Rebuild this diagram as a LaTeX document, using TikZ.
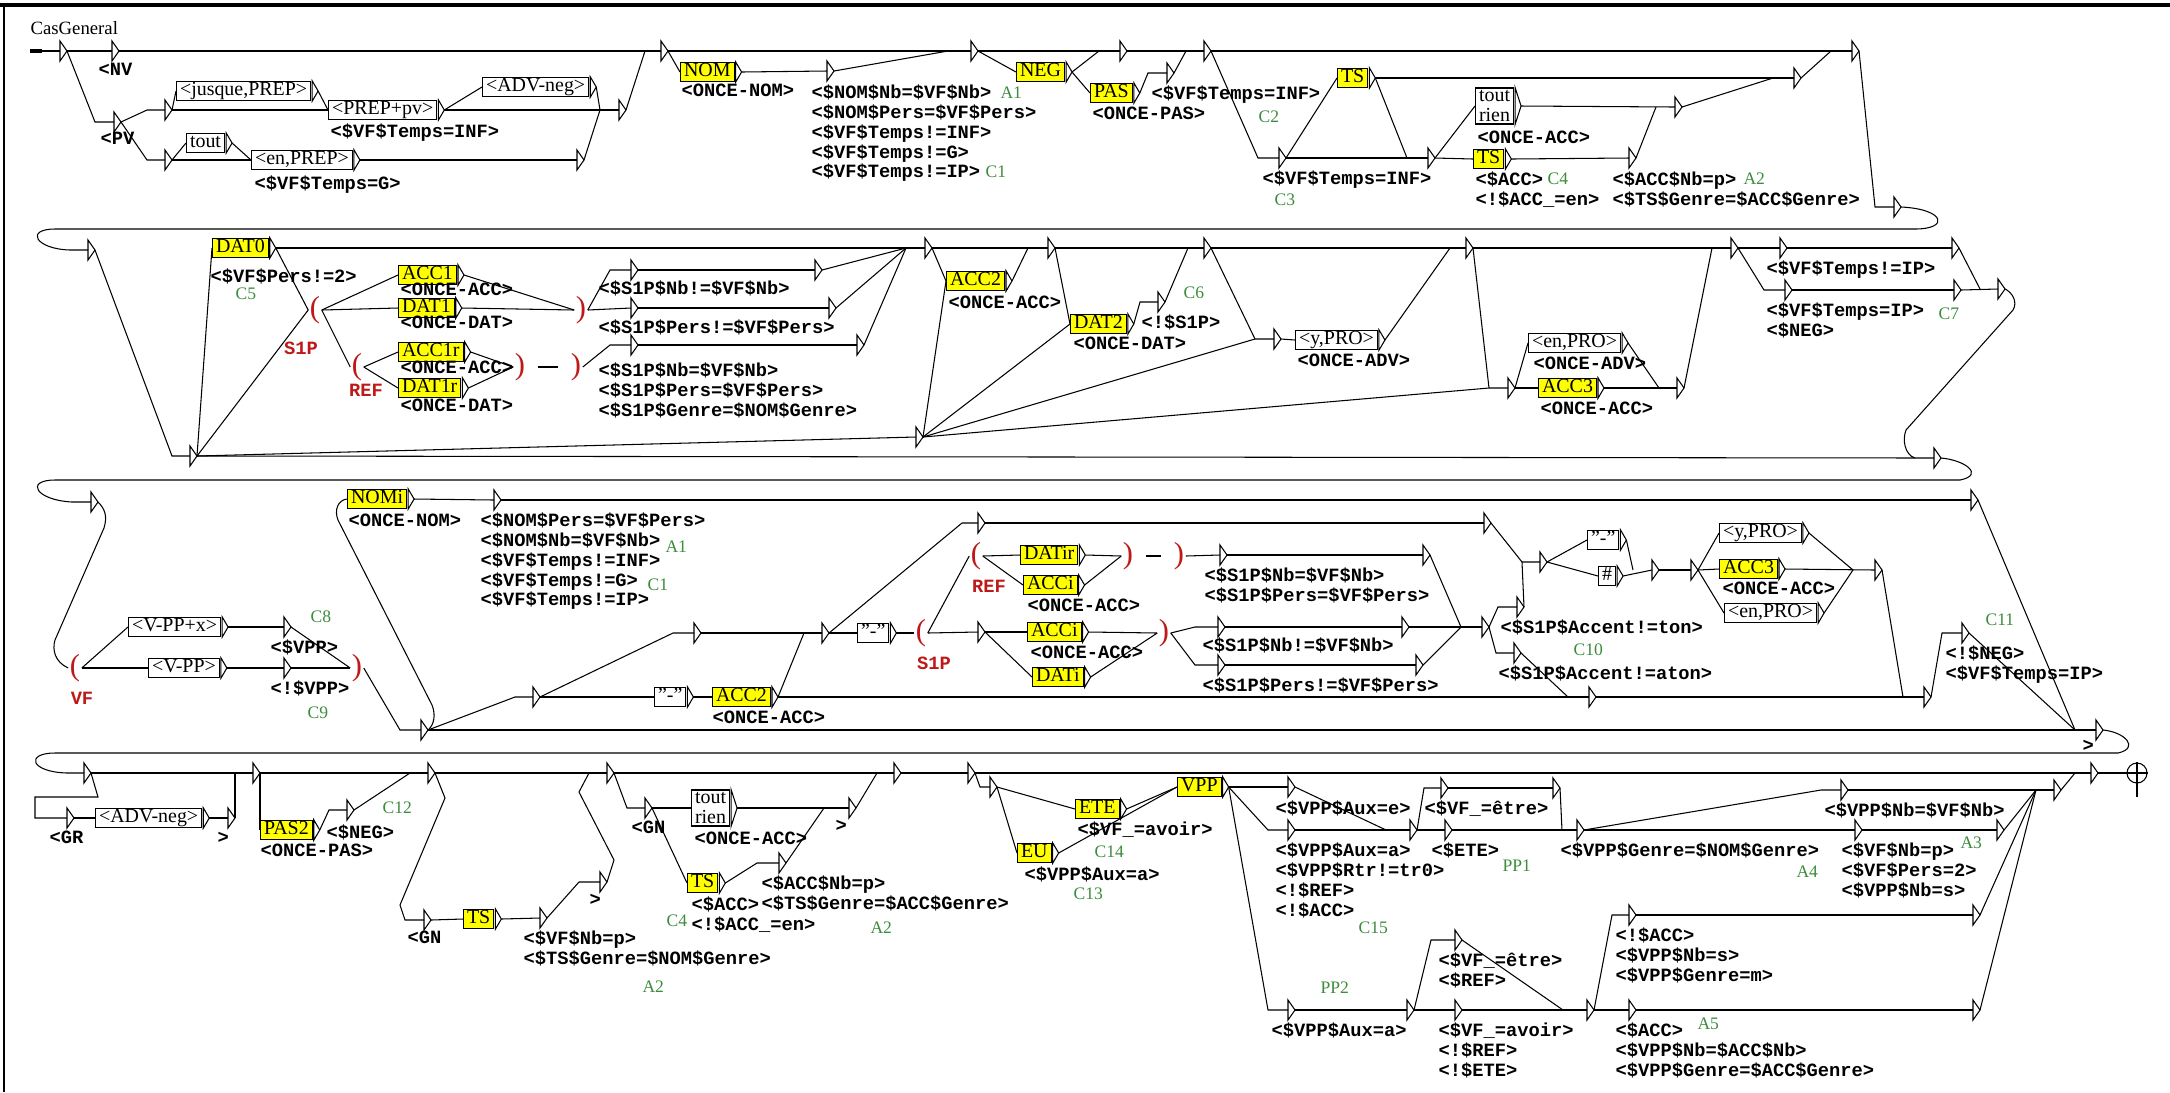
\documentclass[tikz,border=0pt]{standalone}
\usepackage{fontspec}
\setmainfont{Liberation Serif}
\newfontfamily\monofam{Liberation Mono}
\usetikzlibrary{calc,positioning}
\definecolor{boxyellow}{RGB}{255,255,0}
\definecolor{cmtgreen}{RGB}{60,140,60}
\definecolor{varred}{RGB}{190,25,25}
\newcommand{\boxfont}{\fontsize{8.5}{8.5}\selectfont}
\newcommand{\outfont}{\monofam\bfseries\fontsize{8}{8.5}\selectfont}
\tikzset{%
    ybox/.style={%
        draw, fill=boxyellow, anchor=west, font=\boxfont, inner xsep=1.5pt, inner ysep=0.5pt, text height=5.7pt, text depth=1.6pt
    },
    wbox/.style={%
        ybox, fill=white
    },
    wbox2/.style={%
        draw, fill=white, anchor=west, font=\boxfont, align=left, inner xsep=1.5pt, inner ysep=1pt
    },
    outp/.style={%
        anchor=north west, align=left, inner sep=0pt, font=\outfont
    },
    cmt/.style={%
        anchor=west, inner sep=0pt, text=cmtgreen, font=\fontsize{7.5}{7.5}\selectfont
    },
    paren/.style={%
        inner sep=0.5pt, text=varred, font=\fontsize{13}{13}\selectfont
    },
    varlab/.style={%
        inner sep=0pt, text=varred, font=\outfont
    },
    dashlink/.style={%
        shorten <=5pt, shorten >=5pt
    },
}
% empty box: a small triangle, (name) is its input, (name-o) its output
\newcommand{\mrk}[3]{%
  \coordinate (#1) at (#2,#3);
  \coordinate (#1-o) at (#2+7,#3);
  \draw (#2,#3-10) -- (#2+7,#3) -- (#2,#3+10) -- cycle;}
\newcommand{\bxx}[5][ybox]{%
  \node[#1] (#2) at (#3,#4) {#5};
  \draw ($(#2.north east)+(1,0)$) -- ($(#2.east)+(7,0)$) -- ($(#2.south east)+(1,0)$) -- cycle;
  \coordinate (#2-o) at ($(#2.east)+(7,0)$);}
\newcommand{\otxt}[4]{\node[outp] (#1) at (#2,#3-8) {#4};}
\newcommand{\cmnt}[4]{\node[cmt] (#1) at (#2,#3) {#4};}

\begin{document}
\begin{tikzpicture}[x=0.015cm, y=-0.015cm, line width=0.45pt]
\useasboundingbox (0,0) rectangle (2170,1092);
\draw[line width=1.3pt] (0,5) -- (2170,5);
\draw[line width=0.9pt] (4,5) -- (4,1092);
\node[anchor=west, inner sep=0pt, font=\fontsize{8}{8}\selectfont] (title) at (30,28) {CasGeneral};

% first row
\coordinate (ini) at (30,51);
\draw[line width=1.3pt] (ini) -- (42,51);
\mrk{e0}{60}{51}
\mrk{nv}{112}{51}
\mrk{pv}{114}{122}
\otxt{nv-t}{98}{71}{<NV}
\otxt{pv-t}{100}{140}{<PV}
\draw (42,51) -- (e0);
\draw (e0-o) -- (nv);
\draw (e0-o) -- (95,122) -- (pv);
\mrk{pa}{165}{110}
\mrk{pb}{165}{160}
\draw (pv-o) -- (147,110) -- (pa);
\draw (pv-o) -- (147,160) -- (pb);
\bxx[wbox]{jusque}{176}{91}{<jusque,PREP>}
\bxx[wbox]{prep}{328}{110}{<PREP+pv>}
\bxx[wbox]{advneg}{482}{87}{<ADV-neg>}
\bxx[wbox]{tout}{186}{143}{tout}
\bxx[wbox]{enprep}{251}{160}{<en,PREP>}
\otxt{prep-t}{330}{131}{<\$VF\$Temps=INF>}
\otxt{enprep-t}{254}{183}{<\$VF\$Temps=G>}
\mrk{pc}{619}{110}
\mrk{pd}{577}{160}
\draw (pa-o) -- (jusque.west);
\draw (pa-o) -- (prep.west);
\draw (jusque-o) -- (prep.west);
\draw (prep-o) -- (advneg.west);
\draw (prep-o) -- (pc);
\draw (advneg-o) -- (600,110);
\draw (pb-o) -- (tout.west);
\draw (pb-o) -- (enprep.west);
\draw (tout-o) -- (enprep.west);
\draw (enprep-o) -- (pd);
\draw (pd-o) -- (600,110);
\mrk{pf}{661}{51}
\draw (nv-o) -- (pf);
\draw (pc-o) -- (645,51);
\bxx{nom}{680}{72}{NOM}
\otxt{nom-t}{681}{91}{<ONCE-NOM>}
\draw (pf-o) -- (nom.west);
\mrk{g1}{827}{71}
\otxt{g1-t}{811}{92}{<\$NOM\$Nb=\$VF\$Nb>\\<\$NOM\$Pers=\$VF\$Pers>\\<\$VF\$Temps!=INF>\\<\$VF\$Temps!=G>\\<\$VF\$Temps!=IP>}
\cmnt{a1}{1000}{93}{A1}
\cmnt{c1}{985}{172}{C1}
\draw (nom-o) -- (g1);
\mrk{h1}{971}{51}
\draw (pf-o) -- (h1);
\draw (g1-o) -- (948,51);
\bxx{neg}{1016}{72}{NEG}
\draw (h1-o) -- (neg.west);
\mrk{i1}{1120}{51}
\draw (h1-o) -- (i1);
\draw (neg-o) -- (1099,51);
\bxx{pas}{1090}{93}{PAS}
\otxt{pas-t}{1092}{114}{<ONCE-PAS>}
\draw (neg-o) -- (pas.west);
\mrk{j1}{1167}{73}
\otxt{j1-t}{1151}{93}{<\$VF\$Temps=INF>}
\draw (pas-o) -- (1148,73) -- (j1);
\mrk{k1}{1204}{51}
\draw (i1-o) -- (k1);
\draw (j1-o) -- (1186,51);
\cmnt{c2}{1258}{117}{C2}
\mrk{l1}{1279}{158}
\otxt{l1-t}{1262}{178}{<\$VF\$Temps=INF>}
\cmnt{c3}{1274}{200}{C3}
\draw (k1-o) -- (1258,158) -- (l1);
\bxx{ts1}{1337}{78}{TS}
\draw (l1-o) -- (ts1.west);
\mrk{y1}{1794}{78}
\draw (ts1-o) -- (y1);
\mrk{m1}{1428}{158}
\draw (l1-o) -- (m1);
\draw (ts1-o) -- (1407,158);
\bxx[wbox2]{toutrien}{1475}{106}{tout\\rien}
\otxt{toutrien-t}{1477}{138}{<ONCE-ACC>}
\draw (m1-o) -- (toutrien.west);
\bxx{ts2}{1473}{159}{TS}
\otxt{ts2-t}{1475}{179}{<\$ACC>\\<!\$ACC\_=en>}
\cmnt{c4}{1547}{179}{C4}
\draw (m1-o) -- (ts2.west);
\mrk{n1}{1675}{107}
\draw (toutrien-o) -- (n1);
\mrk{o1}{1629}{158}
\otxt{o1-t}{1612}{179}{<\$ACC\$Nb=p>\\<\$TS\$Genre=\$ACC\$Genre>}
\cmnt{a2}{1743}{179}{A2}
\draw (ts2-o) -- (o1);
\draw (o1-o) -- (1656,107);
\draw (n1-o) -- (1773,78);
\mrk{z1}{1852}{51}
\draw (k1-o) -- (z1);
\draw (y1-o) -- (1831,51);
\mrk{w1}{1894}{207}
\draw (z1-o) -- (1875,207) -- (w1);
\mrk{p0}{88}{250}
\draw (w1-o) .. controls (1945,209) and (1950,229) .. (1915,229) -- (55,229) .. controls (25,229) and (35,249) .. (70,250) -- (p0);

% second row
\mrk{q2}{190}{456}
\draw (p0-o) -- (172,456) -- (q2);
\bxx{dat0}{212}{248}{DAT0}
\otxt{dat0-t}{210}{276}{<\$VF\$Pers!=2>}
\cmnt{c5}{235}{294}{C5}
\draw (q2-o) -- (dat0.west);
\node[paren] (s1po) at (315,310) {(};
\node[varlab] (s1po-t) at (301,348) {S1P};
\draw (q2-o) -- (s1po.west);
\draw (dat0-o) -- (s1po.west);
\bxx{acc1}{398}{275}{ACC1}
\otxt{acc1-t}{400}{290}{<ONCE-ACC>}
\bxx{dat1}{398}{308}{DAT1}
\otxt{dat1-t}{400}{323}{<ONCE-DAT>}
\node[paren] (refo) at (357,367) {(};
\node[varlab] (refo-t) at (366,390) {REF};
\draw (s1po.east) -- (acc1.west);
\draw (s1po.east) -- (dat1.west);
\draw (s1po.east) -- (refo.west);
\bxx{acc1r}{398}{352}{ACC1r}
\otxt{acc1r-t}{400}{368}{<ONCE-ACC>}
\bxx{dat1r}{398}{388}{DAT1r}
\otxt{dat1r-t}{400}{406}{<ONCE-DAT>}
\draw (refo.east) -- (acc1r.west);
\draw (refo.east) -- (dat1r.west);
\node[paren] (refc) at (520,367) {)};
\draw (acc1r-o) -- (refc.west);
\draw (dat1r-o) -- (refc.west);
\node[paren] (s1pc2) at (576,367) {)};
\draw[dashlink] (refc.east) -- (s1pc2.west);
\node[paren] (s1pc1) at (581,310) {)};
\draw (acc1-o) -- (s1pc1.west);
\draw (dat1-o) -- (s1pc1.west);
\mrk{s1a}{631}{270}
\mrk{s1b}{631}{308}
\mrk{s1c}{631}{345}
\draw (s1pc1.east) -- (610,270) -- (s1a);
\draw (s1pc1.east) -- (s1b);
\draw (s1pc2.east) -- (610,345) -- (s1c);
\otxt{s1a-t}{598}{288}{<\$S1P\$Nb!=\$VF\$Nb>}
\otxt{s1b-t}{598}{327}{<\$S1P\$Pers!=\$VF\$Pers>}
\otxt{s1c-t}{598}{370}{<\$S1P\$Nb=\$VF\$Nb>\\<\$S1P\$Pers=\$VF\$Pers>\\<\$S1P\$Genre=\$NOM\$Genre>}
\mrk{s1a2}{815}{270}
\mrk{s1b2}{829}{308}
\mrk{s1c2}{857}{345}
\draw (s1a-o) -- (s1a2);
\draw (s1b-o) -- (s1b2);
\draw (s1c-o) -- (s1c2);
\mrk{m2}{925}{248}
\draw (s1a2-o) -- (906,248);
\draw (s1b2-o) -- (906,248);
\draw (s1c2-o) -- (906,248);
\draw (dat0-o) -- (m2);
\bxx{acc2}{946}{281}{ACC2}
\otxt{acc2-t}{948}{303}{<ONCE-ACC>}
\draw (m2-o) -- (acc2.west);
\mrk{m3}{1048}{248}
\draw (m2-o) -- (m3);
\draw (acc2-o) -- (1028,248);
\bxx{dat2}{1070}{324}{DAT2}
\otxt{dat2-t}{1073}{344}{<ONCE-DAT>}
\draw (m3-o) -- (dat2.west);
\mrk{c6m}{1158}{302}
\otxt{c6m-t}{1141}{322}{<!\$S1P>}
\cmnt{c6}{1183}{293}{C6}
\draw (dat2-o) -- (1140,302) -- (c6m);
\mrk{m4}{1204}{248}
\draw (m3-o) -- (m4);
\draw (c6m-o) -- (1188,248);
\mrk{r2}{916}{437}
\draw (q2-o) -- (r2);
\draw (r2-o) -- (acc2.west);
\draw (r2-o) -- (dat2.west);
\mrk{m5}{1274}{339}
\draw (r2-o) -- (1255,339) -- (m5);
\draw (m4-o) -- (1255,339);
\bxx[wbox]{ypro}{1295}{340}{<y,PRO>}
\otxt{ypro-t}{1297}{361}{<ONCE-ADV>}
\draw (m5-o) -- (ypro.west);
\mrk{m6}{1466}{248}
\draw (m4-o) -- (m6);
\draw (ypro-o) -- (1450,248);
\mrk{m7}{1508}{388}
\draw (r2-o) -- (1489,388) -- (m7);
\draw (m6-o) -- (1489,388);
\bxx[wbox]{enpro}{1528}{343}{<en,PRO>}
\otxt{enpro-t}{1533}{364}{<ONCE-ADV>}
\bxx{acc3}{1538}{388}{ACC3}
\otxt{acc3-t}{1540}{409}{<ONCE-ACC>}
\draw (m7-o) -- (enpro.west);
\draw (m7-o) -- (acc3.west);
\mrk{m9}{1677}{388}
\draw (enpro-o) -- (1659,388);
\draw (acc3-o) -- (m9);
\mrk{m8}{1731}{248}
\draw (m6-o) -- (m8);
\draw (m9-o) -- (1712,248);
\mrk{m10}{1780}{248}
\otxt{m10-t}{1766}{268}{<\$VF\$Temps!=IP>}
\mrk{m11}{1952}{248}
\draw (m8-o) -- (m10);
\draw (m10-o) -- (m11);
\mrk{m12}{1785}{290}
\otxt{m12-t}{1766}{310}{<\$VF\$Temps=IP>\\<\$NEG>}
\cmnt{c7}{1938}{314}{C7}
\mrk{m13}{1954}{290}
\draw (m8-o) -- (1764,290) -- (m12);
\draw (m12-o) -- (m13);
\mrk{m14}{1998}{289}
\draw (m11-o) -- (1980,289);
\draw (m13-o) -- (m14);
\mrk{w2}{1934}{458}
\draw (q2-o) -- (w2);
\draw (m14-o) .. controls (2012,292) and (2018,302) .. (2013,310) -- (1906,430) .. controls (1902,440) and (1905,455) .. (1915,458);
\mrk{p3}{91}{502}
\draw (w2-o) .. controls (1965,460) and (1985,475) .. (1960,480) -- (55,480) .. controls (25,480) and (35,500) .. (72,502) -- (p3);

% third row
\node[paren] (vfo) at (75,668) {(};
\node[varlab] (vfo-t) at (82,698) {VF};
\draw (p3-o) .. controls (104,508) and (108,515) .. (104,528) -- (55,640) .. controls (52,650) and (55,662) .. (vfo.west);
\bxx[wbox]{vppx}{128}{627}{<V-PP+x>}
\bxx[wbox]{vpp}{148}{668}{<V-PP>}
\draw (vfo.east) -- (vppx.west);
\draw (vfo.east) -- (vpp.west);
\mrk{c8m}{284}{627}
\otxt{c8m-t}{270}{647}{<\$VPP>}
\cmnt{c8}{310}{617}{C8}
\mrk{c9m}{284}{668}
\otxt{c9m-t}{270}{688}{<!\$VPP>}
\cmnt{c9}{307}{713}{C9}
\draw (vppx-o) -- (c8m);
\draw (vpp-o) -- (c9m);
\node[paren] (vfc) at (357,668) {)};
\draw (c8m-o) -- (vfc.west);
\draw (c9m-o) -- (vfc.west);
\mrk{q3}{421}{730}
\draw (vfc.east) -- (400,730) -- (q3);
\bxx{nomi}{347}{499}{NOMi}
\otxt{nomi-t}{348}{521}{<ONCE-NOM>}
\draw (q3-o) .. controls (434,725) and (436,715) .. (432,705) -- (338,520) .. controls (334,510) and (338,500) .. (nomi.west);
\mrk{a1m}{494}{500}
\otxt{a1m-t}{480}{520}{<\$NOM\$Pers=\$VF\$Pers>\\<\$NOM\$Nb=\$VF\$Nb>\\<\$VF\$Temps!=INF>\\<\$VF\$Temps!=G>\\<\$VF\$Temps!=IP>}
\cmnt{a1b}{665}{547}{A1}
\cmnt{c1b}{647}{585}{C1}
\draw (nomi-o) -- (a1m);
\mrk{mt}{1971}{500}
\draw (a1m-o) -- (mt);
\mrk{mq}{533}{697}
\draw (q3-o) -- (515,697) -- (mq);
\mrk{mq2}{694}{633}
\draw (mq-o) -- (673,633) -- (mq2);
\bxx[wbox]{dasha}{654}{697}{"-"}
\bxx{acc2b}{712}{697}{ACC2}
\otxt{acc2b-t}{712}{718}{<ONCE-ACC>}
\draw (mq-o) -- (dasha.west);
\draw (dasha-o) -- (acc2b.west);
\mrk{mq3}{822}{633}
\draw (mq2-o) -- (mq3);
\draw (acc2b-o) -- (804,633);
\mrk{m15}{978}{523}
\draw (mq3-o) -- (962,523) -- (m15);
\bxx[wbox]{dashb}{857}{633}{"-"}
\draw (mq3-o) -- (dashb.west);
\node[paren] (s1po2) at (921,633) {(};
\node[varlab] (s1po2-t) at (934,663) {S1P};
\draw (dashb-o) -- (s1po2.west);
\mrk{m16}{1484}{523}
\draw (m15-o) -- (m16);
\node[paren] (refo2) at (976,556) {(};
\node[varlab] (refo2-t) at (989,586) {REF};
\draw (s1po2.east) -- (refo2.west);
\mrk{m17}{978}{632}
\draw (s1po2.east) -- (m17);
\bxx{datir}{1020}{555}{DATir}
\bxx{acci1}{1023}{585}{ACCi}
\otxt{acci1-t}{1027}{606}{<ONCE-ACC>}
\draw (refo2.east) -- (datir.west);
\draw (refo2.east) -- (acci1.west);
\node[paren] (refc2) at (1128,556) {)};
\draw (datir-o) -- (refc2.west);
\draw (acci1-o) -- (refc2.west);
\node[paren] (s1pc3) at (1179,556) {)};
\draw[dashlink] (refc2.east) -- (s1pc3.west);
\mrk{ms1}{1220}{555}
\otxt{ms1-t}{1204}{575}{<\$S1P\$Nb=\$VF\$Nb>\\<\$S1P\$Pers=\$VF\$Pers>}
\draw (s1pc3.east) -- (ms1);
\mrk{ms1b}{1423}{555}
\draw (ms1-o) -- (ms1b);
\bxx{acci2}{1027}{632}{ACCi}
\otxt{acci2-t}{1030}{653}{<ONCE-ACC>}
\bxx{dati}{1032}{677}{DATi}
\draw (m17-o) -- (acci2.west);
\draw (m17-o) -- (dati.west);
\node[paren] (s1pc4) at (1164,633) {)};
\draw (acci2-o) -- (s1pc4.west);
\draw (dati-o) -- (s1pc4.west);
\mrk{ms2}{1218}{627}
\otxt{ms2-t}{1202}{645}{<\$S1P\$Nb!=\$VF\$Nb>}
\mrk{ms3}{1218}{665}
\otxt{ms3-t}{1202}{685}{<\$S1P\$Pers!=\$VF\$Pers>}
\draw (s1pc4.east) -- (1195,627) -- (ms2);
\draw (s1pc4.east) -- (1195,665) -- (ms3);
\mrk{ms2b}{1402}{627}
\mrk{ms3b}{1416}{665}
\draw (ms2-o) -- (ms2b);
\draw (ms3-o) -- (ms3b);
\mrk{mj}{1482}{627}
\draw (ms1b-o) -- (1461,627);
\draw (ms2b-o) -- (mj);
\draw (ms3b-o) -- (1461,627);
\mrk{mton}{1517}{607}
\otxt{mton-t}{1500}{627}{<\$S1P\$Accent!=ton>}
\mrk{maton}{1514}{653}
\otxt{maton-t}{1498}{673}{<\$S1P\$Accent!=aton>}
\cmnt{c10}{1573}{650}{C10}
\draw (mj-o) -- (1498,607) -- (mton);
\draw (mj-o) -- (1496,653) -- (maton);
\mrk{m18}{1540}{562}
\draw (mton-o) -- (1522,562) -- (m18);
\draw (m16-o) -- (1522,562);
\bxx[wbox]{dashc}{1587}{540}{"-"}
\bxx[wbox]{hash}{1598}{576}{\#}
\draw (m18-o) -- (dashc.west);
\draw (m18-o) -- (hash.west);
\mrk{m19}{1652}{570}
\draw (dashc-o) -- (1633,570);
\draw (hash-o) -- (m19);
\mrk{m20}{1691}{570}
\draw (m19-o) -- (m20);
\bxx[wbox]{ypro2}{1719}{533}{<y,PRO>}
\bxx{acc3b}{1719}{569}{ACC3}
\otxt{acc3b-t}{1722}{589}{<ONCE-ACC>}
\bxx[wbox]{enpro2}{1724}{613}{<en,PRO>}
\draw (m20-o) -- (ypro2.west);
\draw (m20-o) -- (acc3b.west);
\draw (m20-o) -- (enpro2.west);
\mrk{m21}{1875}{570}
\draw (ypro2-o) -- (1853,570);
\draw (acc3b-o) -- (m21);
\draw (enpro2-o) -- (1853,570);
\mrk{mat}{1589}{697}
\draw (maton-o) -- (1568,697);
\draw (acc2b-o) -- (mat);
\mrk{mc11}{1924}{697}
\draw (mat-o) -- (mc11);
\draw (m21-o) -- (1903,697);
\mrk{mc11b}{1962}{633}
\otxt{mc11b-t}{1945}{653}{<!\$NEG>\\<\$VF\$Temps=IP>}
\cmnt{c11}{1985}{620}{C11}
\draw (mc11-o) -- (1942,633) -- (mc11b);
\mrk{me3}{2096}{730}
\otxt{me3-t}{2082}{748}{>}
\draw (mc11b-o) -- (2075,730);
\draw (mt-o) -- (2075,730);
\draw (q3-o) -- (me3);
\mrk{m40}{84}{773}
\draw (me3-o) .. controls (2125,732) and (2140,748) .. (2118,753) -- (55,753) .. controls (25,753) and (30,772) .. (67,773) -- (m40);

% fourth row
\mrk{m41}{253}{773}
\mrk{m42}{428}{773}
\mrk{m43}{607}{773}
\mrk{m44}{894}{773}
\mrk{m45}{968}{773}
\mrk{mfin}{2091}{773}
\draw (m40-o) -- (m41);
\draw (m41-o) -- (m42);
\draw (m42-o) -- (m43);
\draw (m43-o) -- (m44);
\draw (m44-o) -- (m45);
\draw (m45-o) -- (mfin);
\mrk{mgr}{67}{818}
\otxt{mgr-t}{49}{838}{<GR}
\draw (m40-o) -- (98,797) -- (35,797) -- (35,818) -- (mgr);
\bxx[wbox]{advneg2}{95}{818}{<ADV-neg>}
\draw (mgr-o) -- (advneg2.west);
\mrk{mgr2}{228}{818}
\otxt{mgr2-t}{217}{840}{>}
\draw (advneg2-o) -- (mgr2);
\draw (mgr2-o) -- (235,773);
\bxx{pas2}{260}{830}{PAS2}
\otxt{pas2-t}{260}{851}{<ONCE-PAS>}
\draw (m41-o) -- (pas2.west);
\mrk{mneg}{347}{810}
\otxt{mneg-t}{326}{832}{<\$NEG>}
\cmnt{c12}{382}{808}{C12}
\draw (pas2-o) -- (329,810) -- (mneg);
\draw (mneg-o) -- (410,773);
\mrk{mgn1}{424}{920}
\otxt{mgn1-t}{407}{938}{<GN}
\draw (m42-o) -- (445,798) -- (400,905) -- (405,920) -- (mgn1);
\bxx{ts3}{463}{919}{TS}
\draw (mgn1-o) -- (ts3.west);
\mrk{mts3}{540}{918}
\otxt{mts3-t}{523}{938}{<\$VF\$Nb=p>\\<\$TS\$Genre=\$NOM\$Genre>}
\cmnt{a2b}{642}{987}{A2}
\draw (ts3-o) -- (mts3);
\mrk{mgt1}{600}{882}
\otxt{mgt1-t}{589}{902}{>}
\draw (mts3-o) -- (579,882) -- (mgt1);
\draw (mgt1-o) -- (614,860) -- (579,792) -- (589,773);
\mrk{mgn2}{645}{808}
\otxt{mgn2-t}{631}{828}{<GN}
\draw (m43-o) -- (627,808) -- (mgn2);
\bxx[wbox2]{toutrien2}{691}{808}{tout\\rien}
\otxt{toutrien2-t}{694}{839}{<ONCE-ACC>}
\bxx{ts4}{687}{883}{TS}
\otxt{ts4-t}{691}{904}{<\$ACC>\\<!\$ACC\_=en>}
\cmnt{c4b}{666}{921}{C4}
\draw (mgn2-o) -- (toutrien2.west);
\draw (mgn2-o) -- (ts4.west);
\mrk{mgt2}{849}{808}
\otxt{mgt2-t}{835}{828}{>}
\draw (toutrien2-o) -- (mgt2);
\mrk{mts4}{779}{863}
\otxt{mts4-t}{761}{883}{<\$ACC\$Nb=p>\\<\$TS\$Genre=\$ACC\$Genre>}
\cmnt{a2c}{870}{928}{A2}
\draw (ts4-o) -- (757,863) -- (mts4);
\draw (mts4-o) -- (824,808);
\draw (mgt2-o) -- (877,773);
\mrk{m46}{990}{787}
\draw (m45-o) -- (980,787) -- (m46);
\bxx{ete}{1075}{809}{ETE}
\otxt{ete-t}{1077}{829}{<\$VF\_=avoir>}
\cmnt{c14}{1094}{852}{C14}
\bxx{eu}{1017}{853}{EU}
\otxt{eu-t}{1024}{874}{<\$VPP\$Aux=a>}
\cmnt{c13}{1073}{894}{C13}
\draw (m46-o) -- (ete.west);
\draw (m46-o) -- (eu.west);
\bxx{vppb}{1177}{787}{VPP}
\draw (ete-o) -- (vppb.west);
\draw (eu-o) -- (vppb.west);
\mrk{mae}{1288}{787}
\otxt{mae-t}{1275}{808}{<\$VPP\$Aux=e>}
\mrk{maa}{1288}{830}
\otxt{maa-t}{1275}{850}{<\$VPP\$Aux=a>\\<\$VPP\$Rtr!=tr0>\\<!\$REF>\\<!\$ACC>}
\cmnt{c15}{1358}{928}{C15}
\mrk{maa2}{1288}{1010}
\otxt{maa2-t}{1271}{1030}{<\$VPP\$Aux=a>}
\cmnt{pp2}{1320}{988}{PP2}
\draw (vppb-o) -- (mae);
\draw (vppb-o) -- (1268,830) -- (maa);
\draw (vppb-o) -- (1268,1010) -- (maa2);
\mrk{mj1}{1410}{830}
\draw (mae-o) -- (1386,830);
\draw (maa-o) -- (mj1);
\mrk{metre}{1441}{788}
\otxt{metre-t}{1424}{808}{<\$VF\_=être>}
\mrk{mete}{1445}{830}
\otxt{mete-t}{1431}{850}{<\$ETE>}
\cmnt{pp1}{1502}{866}{PP1}
\draw (mj1-o) -- (1424,788) -- (metre);
\draw (mj1-o) -- (mete);
\mrk{metreb}{1553}{788}
\draw (metre-o) -- (metreb);
\mrk{mg}{1577}{830}
\otxt{mg-t}{1560}{850}{<\$VPP\$Genre=\$NOM\$Genre>}
\cmnt{a4}{1796}{872}{A4}
\draw (metreb-o) -- (1562,830);
\draw (mete-o) -- (mg);
\mrk{mnb}{1841}{790}
\otxt{mnb-t}{1824}{810}{<\$VPP\$Nb=\$VF\$Nb>}
\mrk{mnb2}{1855}{830}
\otxt{mnb2-t}{1841}{850}{<\$VF\$Nb=p>\\<\$VF\$Pers=2>\\<\$VPP\$Nb=s>}
\cmnt{a3}{1960}{843}{A3}
\draw (mg-o) -- (1821,790) -- (mnb);
\draw (mg-o) -- (mnb2);
\mrk{mnb2b}{1997}{830}
\draw (mnb2-o) -- (mnb2b);
\mrk{mj2}{2054}{790}
\draw (mnb-o) -- (mj2);
\draw (mnb2b-o) -- (2036,790);
\mrk{maa2b}{1407}{1010}
\draw (maa2-o) -- (maa2b);
\mrk{metre2}{1455}{940}
\otxt{metre2-t}{1438}{960}{<\$VF\_=être>\\<\$REF>}
\mrk{mavoir}{1455}{1010}
\otxt{mavoir-t}{1438}{1030}{<\$VF\_=avoir>\\<!\$REF>\\<!\$ETE>}
\draw (maa2b-o) -- (1431,940) -- (metre2);
\draw (maa2b-o) -- (mavoir);
\mrk{mj3}{1587}{1010}
\draw (metre2-o) -- (1563,1010);
\draw (mavoir-o) -- (mj3);
\mrk{mnoacc}{1629}{915}
\otxt{mnoacc-t}{1615}{935}{<!\$ACC>\\<\$VPP\$Nb=s>\\<\$VPP\$Genre=m>}
\mrk{macc}{1629}{1010}
\otxt{macc-t}{1615}{1030}{<\$ACC>\\<\$VPP\$Nb=\$ACC\$Nb>\\<\$VPP\$Genre=\$ACC\$Genre>}
\cmnt{a5}{1697}{1024}{A5}
\draw (mj3-o) -- (1612,915) -- (mnoacc);
\draw (mj3-o) -- (macc);
\mrk{mnoaccb}{1973}{915}
\mrk{maccb}{1973}{1010}
\draw (mnoacc-o) -- (mnoaccb);
\draw (macc-o) -- (maccb);
\draw (mnoaccb-o) -- (2036,790);
\draw (maccb-o) -- (2036,790);
\draw (mj2-o) -- (2075,773);
\node[circle, draw, minimum size=0.3cm, inner sep=0pt] (fin) at (2137,773) {};
\draw (fin.west) -- (fin.east);
\draw (fin.north) -- (2137,797);
\draw (mfin-o) -- (fin.west);
\end{tikzpicture}
\end{document}
